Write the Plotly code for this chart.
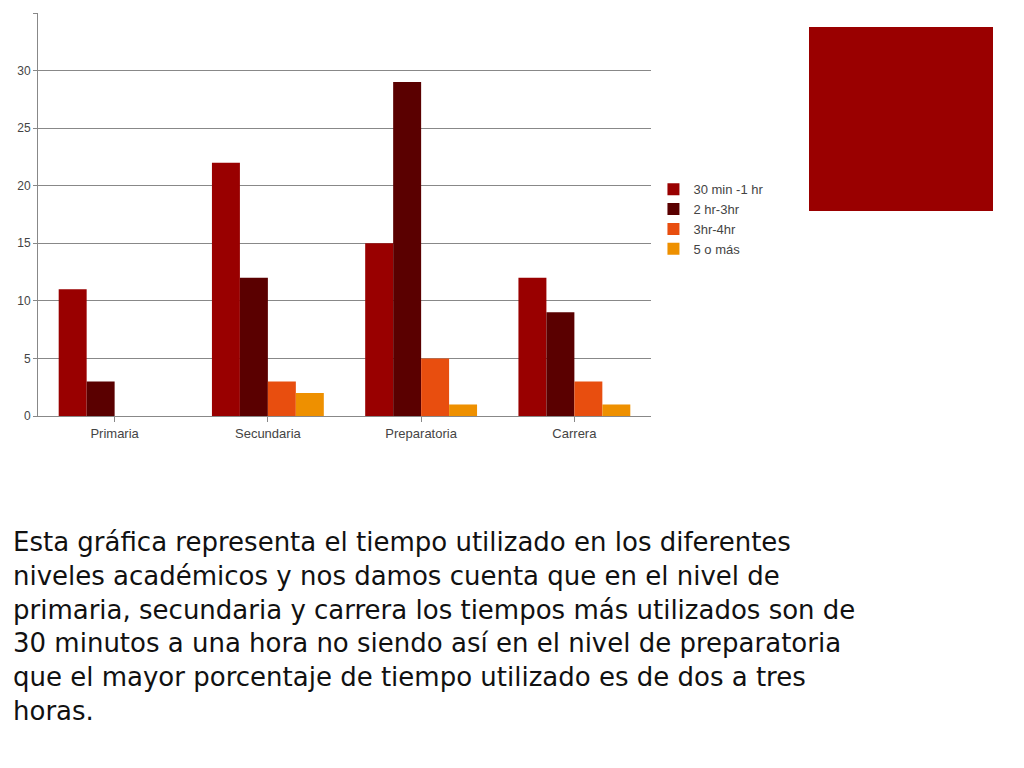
import plotly.graph_objects as go

categories = ["Primaria", "Secundaria", "Preparatoria", "Carrera"]
series_names = ["30 min -1 hr", "2 hr-3hr", "3hr-4hr", "5 o más"]
v_30min = [11, 22, 15, 12]
v_2hr = [3, 12, 29, 9]
v_3hr = [0, 3, 5, 3]
v_5mas = [0, 2, 1, 1]
colors = ["#990000", "#5A0000", "#E84E0F", "#EE9000"]

fig = go.Figure()
for name, vals, c in zip(series_names, [v_30min, v_2hr, v_3hr, v_5mas], colors):
    fig.add_bar(x=categories, y=vals, name=name, marker_color=c, marker_line_width=0)

text = ("Esta gráfica representa el tiempo utilizado en los diferentes<br>"
        "niveles académicos y nos damos cuenta que en el nivel de<br>"
        "primaria, secundaria y carrera los tiempos más utilizados son de<br>"
        "30 minutos a una hora no siendo así en el nivel de preparatoria<br>"
        "que el mayor porcentaje de tiempo utilizado es de dos a tres<br>"
        "horas.")

fig.update_layout(
    width=1024, height=768, autosize=False,
    paper_bgcolor="white", plot_bgcolor="white",
    margin=dict(l=30, r=381, t=5, b=360),
    barmode="group", bargap=0.27, bargroupgap=0,
    font=dict(family="Liberation Sans, Arial, sans-serif", color="#444444", size=12),
    xaxis=dict(showline=True, linecolor="#888888", ticks="outside", ticklen=5,
               tickcolor="#888888", showgrid=False, tickfont=dict(size=13)),
    yaxis=dict(range=[0, 35], dtick=5, showgrid=True, gridcolor="#888888",
               showline=True, linecolor="#888888", ticks="outside", ticklen=4,
               tickcolor="#888888", zeroline=False, tickfont=dict(size=12)),
    legend=dict(x=1.004, y=0.60, xanchor="left", yanchor="top",
                font=dict(size=13), itemwidth=30, tracegroupgap=2),
    shapes=[dict(type="rect", xref="paper", yref="paper",
                 x0=(808-37)/613, x1=(992-37)/613,
                 y0=(419-214)/403, y1=(419-30)/403,
                 fillcolor="#9A0000", line_width=0)],
    annotations=[dict(text=text, xref="paper", yref="paper",
                      x=-27/613, y=-(528-419)/403, xanchor="left", yanchor="top",
                      align="left", showarrow=False,
                      font=dict(size=26, color="#111111",
                                family="DejaVu Sans, sans-serif"))],
)
fig.write_html("out.html")
